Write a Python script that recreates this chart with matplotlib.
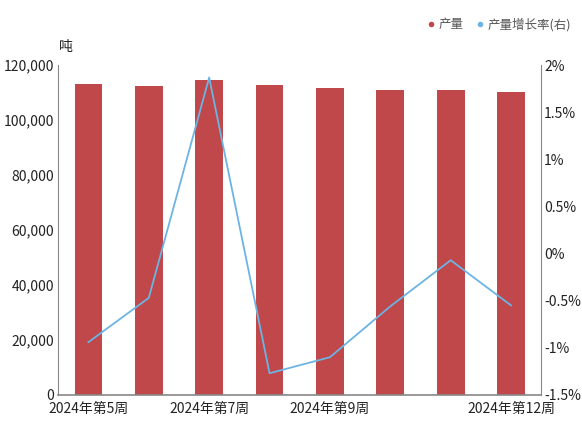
import matplotlib
matplotlib.use('Agg')
import matplotlib.pyplot as plt
from matplotlib.ticker import FuncFormatter
from matplotlib.lines import Line2D

plt.rcParams['font.family'] = ['Noto Sans CJK SC', 'DejaVu Sans']

weeks = ['2024年第5周', '2024年第6周', '2024年第7周', '2024年第8周',
         '2024年第9周', '2024年第10周', '2024年第11周', '2024年第12周']
output = [113000, 112400, 114500, 112900, 111700, 111100, 111000, 110400]
growth = [-0.94, -0.47, 1.87, -1.27, -1.10, -0.56, -0.07, -0.55]
shown_labels = {0, 2, 4, 7}

bar_color = '#c0474a'
line_color = '#6cb4e4'
axis_color = '#888888'

fig = plt.figure(figsize=(5.82, 4.21), dpi=100)
ax = fig.add_axes([0.1, 0.062, 0.83, 0.783])
ax2 = ax.twinx()

x = list(range(len(weeks)))
ax.bar(x, output, width=0.46, color=bar_color, zorder=2)
ax2.plot(x, growth, color=line_color, lw=1.3, zorder=3)

ax.set_xlim(-0.5, len(weeks) - 0.5)
ax.set_ylim(0, 120000)
ax.set_yticks(range(0, 120001, 20000))
ax.yaxis.set_major_formatter(FuncFormatter(lambda v, p: f'{int(v):,}'))
ax2.set_ylim(-1.5, 2)
ax2.set_yticks([-1.5, -1, -0.5, 0, 0.5, 1, 1.5, 2])
ax2.yaxis.set_major_formatter(FuncFormatter(lambda v, p: f'{v:g}%'))

ax.set_xticks(x)
ax.set_xticklabels([w if i in shown_labels else '' for i, w in enumerate(weeks)])

for a in (ax, ax2):
    for s in ('top', 'left', 'right', 'bottom'):
        a.spines[s].set_visible(False)
    a.tick_params(length=0, labelsize=10, colors='#222222', pad=3)

ax.spines['bottom'].set_visible(True)
ax.spines['bottom'].set_color(axis_color)
ax.spines['bottom'].set_linewidth(1.2)
ax.spines['left'].set_visible(True)
ax.spines['left'].set_color(axis_color)
ax2.spines['right'].set_visible(True)
ax2.spines['right'].set_color(axis_color)
ax.tick_params(axis='x', pad=5)
ax2.tick_params(axis='y', pad=2)

ax.text(0.015, 1.035, '吨', transform=ax.transAxes, fontsize=10,
        ha='center', va='bottom', color='#222222')

handles = [Line2D([0], [0], marker='o', color='none', markerfacecolor=bar_color,
                  markeredgecolor='none', markersize=4, label='产量'),
           Line2D([0], [0], marker='o', color='none', markerfacecolor=line_color,
                  markeredgecolor='none', markersize=4, label='产量增长率(右)')]
fig.legend(handles=handles, loc='upper right', bbox_to_anchor=(1.0, 0.985), ncol=2,
           frameon=False, fontsize=9, handletextpad=0.1, columnspacing=0.8,
           handlelength=1.0, labelcolor='#555555')

fig.savefig('out.png', dpi=100)
